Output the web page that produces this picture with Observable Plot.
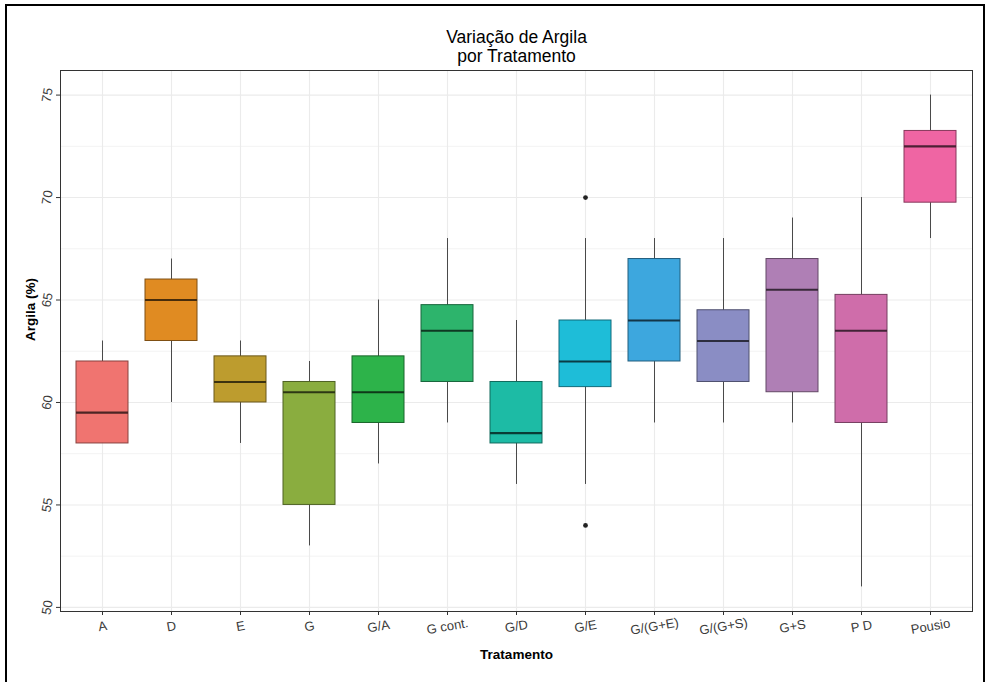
<!DOCTYPE html>
<html>
<head>
<meta charset="utf-8">
<script src="https://cdn.jsdelivr.net/npm/d3@7"></script>
<script src="https://cdn.jsdelivr.net/npm/@observablehq/plot@0.6"></script>
<style>
  html, body { margin: 0; padding: 0; background: #fff; }
  #wrap { position: relative; width: 989px; height: 682px; overflow: hidden; }
  #border { position: absolute; left: 5px; top: 4px; width: 976px; height: 700px;
            border: 2px solid #000; pointer-events: none; }
</style>
</head>
<body>
<div id="wrap"><div id="chart"></div><div id="border"></div></div>
<script>
const categories = ["A","D","E","G","G/A","G cont.","G/D","G/E","G/(G+E)","G/(G+S)","G+S","P D","Pousio"];
const lowerWhisker = [58, 60, 58, 53, 57, 59, 56, 56, 59, 59, 59, 51, 68];
const q1           = [58, 63, 60, 55, 59, 61, 58, 60.75, 62, 61, 60.5, 59, 69.75];
const median       = [59.5, 65, 61, 60.5, 60.5, 63.5, 58.5, 62, 64, 63, 65.5, 63.5, 72.5];
const q3           = [62, 66, 62.25, 61, 62.25, 64.75, 61, 64, 67, 64.5, 67, 65.25, 73.25];
const upperWhisker = [63, 67, 63, 62, 65, 68, 64, 68, 68, 68, 69, 70, 75];
const outlierCategory = ["G/E", "G/E"];
const outlierValue    = [70, 54];
const fillColors = ["#F07470","#E08B22","#BD9C2E","#8AAD3F","#2DB34A","#2DB46C","#1DBBA5",
                    "#1EBDD8","#3DA7DE","#8A8DC4","#AF7FB5","#CF6DAA","#EF65A3"];
const yTicks = [50, 55, 60, 65, 70, 75];
const yMinor = [52.5, 57.5, 62.5, 67.5, 72.5];
const titleText = "Variação de Argila\npor Tratamento";
const xTitle = "Tratamento";
const yTitle = "Argila (%)";

const rows = categories.map((c, i) => ({
  cat: c, lo: lowerWhisker[i], q1: q1[i], med: median[i], q3: q3[i], hi: upperWhisker[i],
  fill: fillColors[i],
  stroke: d3.color(fillColors[i]).darker(1.6).formatHex(),
  medStroke: d3.color(fillColors[i]).darker(3.2).formatHex()
}));
const outliers = outlierCategory.map((c, i) => ({cat: c, v: outlierValue[i]}));

const font = "'Liberation Sans', Arial, Helvetica, sans-serif";

const plot = Plot.plot({
  width: 989,
  height: 682,
  marginLeft: 60,
  marginRight: 17,
  marginTop: 70,
  marginBottom: 71,
  style: {fontFamily: font, fontSize: "12px", background: "#fff"},
  x: {type: "band", domain: categories, paddingInner: 0.25, paddingOuter: 0.225, label: null},
  y: {domain: [49.8, 76.2], label: null},
  marks: [
    Plot.ruleY(yMinor, {stroke: "#F3F3F3", strokeWidth: 1}),
    Plot.ruleY(yTicks, {stroke: "#EBEBEB", strokeWidth: 1.1}),
    Plot.ruleX(categories, {x: d => d, stroke: "#EBEBEB", strokeWidth: 1.1}),
    Plot.ruleX(rows, {x: "cat", y1: "lo", y2: "hi", stroke: "#4a4a4a", strokeWidth: 1}),
    Plot.barY(rows, {x: "cat", y1: "q1", y2: "q3", fill: d => d.fill, stroke: d => d.stroke, strokeWidth: 1, insetLeft: 0, insetRight: 0}),
    Plot.tickY(rows, {x: "cat", y: "med", stroke: d => d.medStroke, strokeWidth: 2.2}),
    Plot.dot(outliers, {x: "cat", y: "v", r: 2.4, fill: "#222", stroke: null}),
    Plot.frame({stroke: "#333", strokeWidth: 1}),
    Plot.axisY({ticks: yTicks, tickSize: 4, stroke: "#333", tickFormat: () => "", label: null}),
    Plot.text(yTicks, {y: d => d, text: d => String(d), frameAnchor: "left", dx: -13, rotate: -80,
                       textAnchor: "middle", lineAnchor: "middle", fill: "#3a3a3a", fontSize: 13}),
    Plot.axisX({tickSize: 4, stroke: "#333", tickFormat: () => "", label: null}),
    Plot.text(categories, {x: d => d, text: d => d, frameAnchor: "bottom", dy: 15, rotate: -10,
                           textAnchor: "middle", lineAnchor: "middle", fill: "#3a3a3a", fontSize: 13}),
    Plot.text([xTitle], {text: d => d, frameAnchor: "bottom", dy: 47, fontWeight: "bold", fontSize: 13.5, fill: "#000"}),
    Plot.text([yTitle], {text: d => d, frameAnchor: "left", dx: -30, rotate: -90, fontWeight: "bold", fontSize: 13.5, fill: "#000"}),
    Plot.text([titleText], {text: d => d, frameAnchor: "top", dy: -24, fontSize: 17.5, lineAnchor: "middle", lineHeight: 1.08, fill: "#000"})
  ]
});
document.getElementById("chart").appendChild(plot);
</script>
</body>
</html>
